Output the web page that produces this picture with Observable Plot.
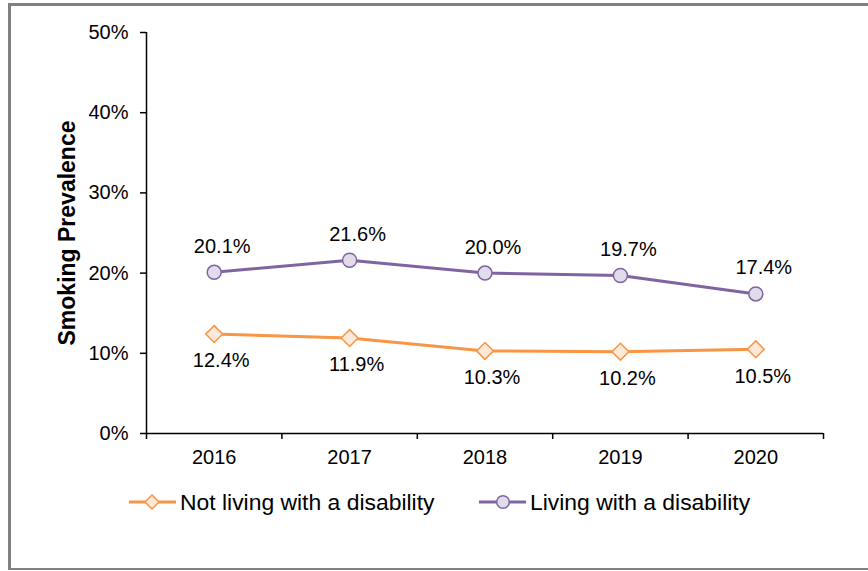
<!DOCTYPE html>
<html>
<head>
<meta charset="utf-8">
<script src="https://cdn.jsdelivr.net/npm/d3@7"></script>
<script src="https://cdn.jsdelivr.net/npm/@observablehq/plot@0.6"></script>
<style>
  html, body { margin: 0; padding: 0; background: #fff; width: 868px; height: 571px; overflow: hidden; }
  body { position: relative; font-family: "Liberation Sans", Arial, sans-serif; }
  #frame { position: absolute; left: 8px; top: 3px; width: 900px; height: 567px; box-sizing: border-box;
           border-left: 3px solid #808080; border-top: 3px solid #808080; border-bottom: 2px solid #808080; }
  #chart { position: absolute; left: 0; top: 0; }
  .leg { position: absolute; top: 488px; height: 28px; display: flex; align-items: center; }
  .leg svg { display: block; }
  .leg span { font-size: 22.9px; color: #000; margin-left: 4px; line-height: 28px; }
</style>
</head>
<body>
<div id="frame"></div>
<div id="chart"></div>
<div class="leg" id="leg1" style="left:129px"></div>
<div class="leg" id="leg2" style="left:479px"></div>
<script>
const years = [2016, 2017, 2018, 2019, 2020];
const notDisabled = [12.4, 11.9, 10.3, 10.2, 10.5];
const disabled = [20.1, 21.6, 20.0, 19.7, 17.4];
const seriesNames = ["Not living with a disability", "Living with a disability"];
const yTicks = [0, 10, 20, 30, 40, 50];
const yTitle = "Smoking Prevalence";

const orange = "#F79646", orangeFill = "#FDE9D9";
const purple = "#8064A2", purpleFill = "#E1DCEB";

const rowsNot = years.map((y, i) => ({year: y, value: notDisabled[i]}));
const rowsDis = years.map((y, i) => ({year: y, value: disabled[i]}));
const xDomain = [years[0] - 0.5, years[years.length - 1] + 0.5];
const bounds = years.map(y => y - 0.5).concat([years[years.length - 1] + 0.5]);
const fmt = d => d.value.toFixed(1) + "%";

const chart = Plot.plot({
  width: 868,
  height: 480,
  marginLeft: 146,
  marginRight: 45,
  marginTop: 32,
  marginBottom: 47,
  style: {fontFamily: "Liberation Sans, Arial, sans-serif", fontSize: "20px", color: "#000", background: "transparent"},
  x: {domain: xDomain, label: null},
  y: {domain: [yTicks[0], yTicks[yTicks.length - 1]], label: null},
  marks: [
    Plot.axisY({ticks: yTicks, tickFormat: d => d + "%", tickSize: 6, tickPadding: 12, fontSize: 20, strokeWidth: 1.5, label: null}),
    Plot.axisX({ticks: bounds, tickFormat: () => "", tickSize: 6, strokeWidth: 1.5, label: null}),
    Plot.axisX({ticks: years, tickFormat: d => String(d), tickSize: 0, tickPadding: 16, fontSize: 20, label: null}),
    Plot.ruleX([xDomain[0]], {stroke: "#000", strokeWidth: 1.5}),
    Plot.ruleY([yTicks[0]], {stroke: "#000", strokeWidth: 1.5}),
    Plot.text([yTitle], {frameAnchor: "left", textAnchor: "middle", dx: -79, rotate: -90, fontWeight: "bold", fontSize: 23}),
    Plot.lineY(rowsNot, {x: "year", y: "value", stroke: orange, strokeWidth: 3}),
    Plot.lineY(rowsDis, {x: "year", y: "value", stroke: purple, strokeWidth: 3}),
    Plot.dot(rowsNot, {x: "year", y: "value", symbol: "diamond2", r: 7.6, fill: orangeFill, stroke: orange, strokeWidth: 1.5}),
    Plot.dot(rowsDis, {x: "year", y: "value", symbol: "circle", r: 7, fill: purpleFill, stroke: purple, strokeWidth: 1.5}),
    Plot.text(rowsDis, {x: "year", y: "value", text: fmt, dx: 8, dy: -26, fontSize: 20, fill: "#000"}),
    Plot.text(rowsNot, {x: "year", y: "value", text: fmt, dx: 7, dy: 27, fontSize: 20, fill: "#000"})
  ]
});
document.getElementById("chart").appendChild(chart);

function legendItem(id, name, color, fill, shape) {
  const el = document.getElementById(id);
  const ns = "http://www.w3.org/2000/svg";
  const svg = document.createElementNS(ns, "svg");
  svg.setAttribute("width", 47); svg.setAttribute("height", 28);
  const line = document.createElementNS(ns, "line");
  line.setAttribute("x1", 0); line.setAttribute("x2", 47); line.setAttribute("y1", 14); line.setAttribute("y2", 14);
  line.setAttribute("stroke", color); line.setAttribute("stroke-width", 3);
  svg.appendChild(line);
  let m;
  if (shape === "diamond") {
    m = document.createElementNS(ns, "path");
    m.setAttribute("d", "M23,7 L30,14 L23,21 L16,14 Z");
  } else {
    m = document.createElementNS(ns, "circle");
    m.setAttribute("cx", 24); m.setAttribute("cy", 14); m.setAttribute("r", 6.3);
  }
  m.setAttribute("fill", fill); m.setAttribute("stroke", color); m.setAttribute("stroke-width", 1.5);
  svg.appendChild(m);
  el.appendChild(svg);
  const t = document.createElement("span");
  t.textContent = name;
  el.appendChild(t);
}
legendItem("leg1", seriesNames[0], orange, orangeFill, "diamond");
legendItem("leg2", seriesNames[1], purple, purpleFill, "circle");
</script>
</body>
</html>
